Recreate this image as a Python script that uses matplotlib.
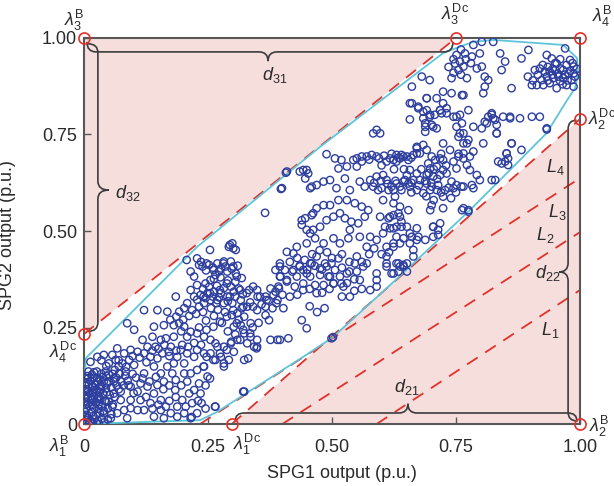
import matplotlib
matplotlib.use('Agg')
import matplotlib.pyplot as plt
from matplotlib.path import Path
from matplotlib.patches import PathPatch, Polygon

plt.rcParams['font.family'] = ['Liberation Sans', 'DejaVu Sans']
plt.rcParams['mathtext.fontset'] = 'custom'
plt.rcParams['mathtext.rm'] = 'Liberation Sans'
plt.rcParams['mathtext.it'] = 'Liberation Sans:italic'
plt.rcParams['mathtext.bf'] = 'Liberation Sans:bold'

# ---------------- data ----------------
tick_vals = [0, 0.25, 0.50, 0.75, 1.00]
tick_labels = ['0', '0.25', '0.50', '0.75', '1.00']

# box vertices lambda^B (1..4) and dispatchable vertices lambda^Dc (1..4)
lamB_x = [0.0, 1.0, 0.0, 1.0]
lamB_y = [0.0, 0.0, 1.0, 1.0]
lamDc_x = [0.298, 1.0, 0.75, 0.0]
lamDc_y = [0.0, 0.79, 1.0, 0.233]

# extra parallel dashed lines L3, L2, L1 (start on x-axis, end on x=1)
Lpar_x0 = [0.234, 0.400, 0.590]
Lpar_y1 = [0.637, 0.497, 0.347]

# convex hull of the observed outputs
hull_x = [0.000, 0.234, 0.268, 0.442, 0.502, 0.640, 0.778, 0.865, 0.933, 0.974,
          0.990, 0.996, 0.994, 0.966, 0.825, 0.784, 0.724, 0.476, 0.228, 0.004, 0.002, 0.000]
hull_y = [0.000, 0.010, 0.031, 0.174, 0.225, 0.387, 0.554, 0.666, 0.754, 0.839,
          0.870, 0.910, 0.948, 0.982, 0.995, 0.990, 0.961, 0.718, 0.459, 0.171, 0.135, 0.000]

# observed (SPG1, SPG2) outputs, grouped by region
obs_origin = [
    (0.004,0.010),(0.012,0.006),(0.020,0.012),(0.028,0.008),(0.036,0.014),(0.006,0.024),(0.015,0.030),
    (0.024,0.022),(0.032,0.028),(0.040,0.034),(0.004,0.040),(0.011,0.046),(0.020,0.042),(0.029,0.050),
    (0.037,0.046),(0.006,0.058),(0.015,0.062),(0.024,0.056),(0.033,0.064),(0.042,0.060),(0.004,0.074),
    (0.012,0.080),(0.021,0.072),(0.030,0.084),(0.039,0.078),(0.006,0.090),(0.016,0.096),(0.025,0.088),
    (0.034,0.100),(0.044,0.092),(0.004,0.108),(0.013,0.112),(0.022,0.104),(0.031,0.116),(0.040,0.110),
    (0.006,0.124),(0.016,0.128),(0.026,0.120),(0.035,0.130),(0.045,0.124),(0.009,0.136),(0.020,0.134),
    (0.050,0.110),(0.055,0.095),(0.052,0.075),(0.058,0.130),(0.065,0.120),(0.075,0.110),(0.083,0.125),
    (0.070,0.090),(0.080,0.100),(0.088,0.112),(0.062,0.070),(0.048,0.040),(0.055,0.025),(0.002,0.002),
    (0.010,0.000),(0.018,0.002),(0.002,0.018),(0.002,0.032),(0.002,0.050),(0.002,0.066),(0.002,0.086),
    (0.002,0.100),(0.002,0.118),(0.040,0.004),(0.048,0.012),(0.030,0.000),
    (0.008,0.016),(0.018,0.020),(0.008,0.052),(0.018,0.050),(0.008,0.068),(0.018,0.066),(0.008,0.084),
    (0.018,0.082),(0.010,0.102),(0.018,0.096),(0.008,0.118),(0.020,0.120),(0.026,0.136),(0.030,0.040),
    (0.026,0.064),(0.034,0.090),(0.028,0.110),(0.038,0.122),(0.044,0.136),(0.050,0.128),(0.046,0.082),
    (0.050,0.058),(0.058,0.050),(0.066,0.100),(0.072,0.130),(0.060,0.110),
]

obs_lower_left = [
    (0.365,0.547),(0.254,0.451),(0.299,0.468),(0.306,0.451),(0.292,0.459),(0.207,0.425),
    (0.228,0.429),(0.232,0.412),(0.215,0.395),(0.222,0.382),(0.239,0.408),(0.252,0.412),(0.269,0.416),
    (0.282,0.421),(0.296,0.421),(0.276,0.403),(0.289,0.395),(0.306,0.390),(0.265,0.386),(0.255,0.373),
    (0.245,0.364),(0.228,0.360),(0.215,0.347),(0.222,0.330),(0.235,0.334),(0.249,0.339),(0.262,0.343),
    (0.276,0.339),(0.289,0.330),(0.302,0.343),(0.312,0.351),(0.316,0.321),(0.299,0.313),(0.282,0.313),
    (0.269,0.321),(0.255,0.321),(0.242,0.313),(0.232,0.304),(0.218,0.295),(0.202,0.300),(0.192,0.291),
    (0.185,0.330),(0.208,0.313),(0.309,0.287),(0.323,0.278),(0.329,0.304),(0.333,0.347),(0.349,0.347),
    (0.366,0.330),(0.376,0.351),(0.386,0.343),(0.390,0.321),(0.366,0.304),(0.349,0.295),(0.336,0.261),
    (0.316,0.256),(0.302,0.252),(0.323,0.235),(0.336,0.226),(0.349,0.218),(0.343,0.200),(0.329,0.209),
    (0.309,0.218),(0.296,0.209),(0.282,0.200),(0.265,0.209),(0.255,0.218),(0.242,0.226),(0.228,0.235),
    (0.215,0.239),(0.202,0.252),(0.192,0.261),(0.181,0.256),(0.168,0.291),(0.121,0.295),(0.148,0.295),
    (0.161,0.256),(0.141,0.252),(0.087,0.261),(0.101,0.244),
    (0.118,0.218),(0.128,0.200),(0.138,0.226),(0.144,0.200),(0.155,0.218),(0.165,0.222),(0.175,0.200),
    (0.181,0.226),(0.171,0.187),(0.158,0.183),(0.148,0.170),(0.134,0.174),(0.121,0.183),(0.108,0.187),
    (0.094,0.192),(0.081,0.183),(0.067,0.196),(0.057,0.179),(0.040,0.179),(0.027,0.174),(0.013,0.161),
    (0.050,0.157),(0.064,0.166),(0.077,0.157),(0.091,0.166),(0.101,0.153),(0.084,0.136),(0.071,0.131),
    (0.060,0.118),(0.047,0.105),(0.034,0.097),(0.020,0.088),(0.030,0.071),(0.044,0.058),(0.057,0.045),
    (0.067,0.028),(0.081,0.036),(0.094,0.041),(0.108,0.036),(0.121,0.036),(0.134,0.054),(0.141,0.079),
    (0.155,0.062),(0.165,0.045),(0.175,0.028),(0.188,0.045),(0.198,0.062),(0.212,0.079),(0.222,0.088),
    (0.235,0.079),(0.218,0.054),(0.202,0.028),(0.215,0.015),(0.141,0.019),(0.128,0.097),(0.114,0.105),
    (0.108,0.084),(0.121,0.131),(0.141,0.149),(0.155,0.131),(0.168,0.149),(0.178,0.131),(0.185,0.114),
    (0.202,0.131),(0.215,0.131),(0.228,0.140),(0.242,0.149),(0.249,0.123),(0.222,0.174),(0.228,0.192),
    (0.242,0.183),(0.255,0.183),(0.265,0.166),(0.276,0.174),(0.282,0.157),(0.292,0.166),(0.269,0.200),
    (0.282,0.149),(0.302,0.187),(0.323,0.166),(0.349,0.200),(0.373,0.269),(0.390,0.218),(0.376,0.218),
    (0.265,0.045),(0.323,0.084),(0.202,0.157),(0.208,0.183),(0.195,0.192),(0.188,0.174),(0.181,0.157),
    (0.161,0.110),(0.148,0.101),(0.074,0.062),(0.060,0.079),
    (0.094,0.062),(0.114,0.062),(0.155,0.036),(0.188,0.019),(0.228,0.028),(0.161,0.015),(0.040,0.028),
    (0.054,0.015),(0.087,0.015),(0.074,0.084),(0.094,0.097),(0.386,0.399),(0.396,0.382),(0.393,0.351),
    # denser core of the lower-left cluster
    (0.236,0.420),(0.246,0.398),(0.260,0.405),(0.272,0.395),(0.285,0.408),(0.298,0.402),(0.310,0.410),
    (0.262,0.376),(0.275,0.380),(0.290,0.372),(0.305,0.368),(0.318,0.378),(0.240,0.350),(0.252,0.355),
    (0.268,0.358),(0.282,0.352),(0.296,0.356),(0.228,0.322),(0.245,0.326),(0.260,0.330),(0.272,0.328),
    (0.290,0.318),(0.305,0.330),(0.320,0.336),(0.212,0.280),(0.226,0.285),(0.240,0.290),(0.256,0.300),
    (0.270,0.296),(0.284,0.290),(0.298,0.282),(0.312,0.270),(0.200,0.270),(0.186,0.278),(0.174,0.270),
    (0.196,0.240),(0.208,0.226),(0.232,0.250),(0.246,0.268),(0.262,0.280),(0.278,0.262),(0.290,0.240),
    (0.305,0.232),(0.318,0.300),(0.335,0.315),(0.350,0.330),(0.358,0.310),(0.372,0.320),(0.380,0.300),
    (0.366,0.282),(0.352,0.262),(0.340,0.250),
    (0.070,0.150),(0.085,0.148),(0.098,0.176),(0.112,0.172),(0.126,0.160),(0.138,0.190),(0.150,0.195),
    (0.162,0.205),(0.172,0.176),(0.186,0.190),(0.198,0.205),(0.210,0.200),(0.222,0.210),(0.236,0.205),
    (0.105,0.120),(0.118,0.118),(0.132,0.110),(0.145,0.122),(0.160,0.090),(0.172,0.100),(0.184,0.088),
    (0.196,0.100),(0.208,0.110),(0.232,0.105),(0.245,0.100),(0.100,0.080),(0.125,0.070),(0.138,0.040),
    (0.150,0.050),(0.172,0.060),(0.185,0.070),(0.205,0.045),(0.230,0.060),(0.245,0.040),(0.090,0.100),
    (0.098,0.130),(0.062,0.140),(0.070,0.165),(0.045,0.150),(0.035,0.165),
]

obs_lower_mid = [
    (0.247,0.416),(0.261,0.399),(0.281,0.416),(0.301,0.408),(0.308,0.382),(0.288,0.364),(0.274,0.347),
    (0.254,0.339),(0.241,0.330),(0.267,0.313),(0.294,0.330),(0.315,0.347),(0.328,0.339),(0.341,0.356),
    (0.355,0.330),(0.368,0.321),(0.382,0.334),(0.341,0.304),(0.321,0.304),(0.301,0.295),(0.288,0.278),
    (0.274,0.265),(0.261,0.252),(0.247,0.244),(0.308,0.261),(0.321,0.244),(0.335,0.235),(0.315,0.218),
    (0.297,0.213),(0.288,0.192),(0.274,0.183),(0.261,0.166),(0.247,0.174),(0.241,0.149),(0.254,0.118),
    (0.331,0.170),(0.348,0.196),(0.395,0.218),(0.412,0.222),(0.392,0.356),(0.409,0.373),(0.395,0.408),
    (0.422,0.399),(0.435,0.408),(0.449,0.390),(0.459,0.416),(0.476,0.403),(0.489,0.408),(0.493,0.382),
    (0.503,0.364),(0.516,0.382),(0.530,0.390),(0.546,0.416),(0.563,0.408),(0.556,0.373),(0.523,0.356),
    (0.577,0.347),(0.590,0.373),(0.610,0.408),(0.624,0.390),(0.637,0.408),(0.536,0.330),(0.439,0.269),
    (0.449,0.248),(0.388,0.313),(0.402,0.300),(0.442,0.347),(0.469,0.339),(0.499,0.222),(0.502,0.225),
    (0.321,0.084),(0.264,0.045),(0.237,0.054),(0.217,0.018),
    (0.415,0.420),(0.430,0.430),(0.445,0.425),(0.460,0.440),(0.475,0.450),(0.490,0.445),(0.500,0.430),
    (0.520,0.440),(0.535,0.420),(0.480,0.400),(0.465,0.410),(0.450,0.400),(0.435,0.410),(0.420,0.395),
    (0.520,0.405),(0.535,0.395),(0.545,0.375),(0.530,0.365),(0.560,0.420),(0.575,0.440),(0.585,0.455),
    (0.600,0.440),(0.615,0.445),(0.480,0.340),(0.495,0.350),(0.455,0.350),(0.430,0.335),(0.415,0.330),
    (0.400,0.335),(0.455,0.305),(0.470,0.290),(0.485,0.300),(0.520,0.330),(0.545,0.345),(0.560,0.350),
]

obs_center = [
    (0.762,0.852),(0.691,0.844),(0.661,0.831),(0.657,0.789),(0.674,0.818),(0.684,0.809),(0.698,0.801),
    (0.718,0.813),(0.724,0.831),(0.731,0.805),(0.745,0.796),(0.758,0.801),(0.775,0.813),(0.688,0.779),
    (0.701,0.775),(0.711,0.766),(0.688,0.757),(0.724,0.727),(0.738,0.710),(0.758,0.753),(0.762,0.779),
    (0.755,0.744),(0.765,0.727),(0.775,0.736),(0.785,0.706),(0.765,0.688),(0.772,0.671),(0.751,0.662),
    (0.778,0.658),(0.785,0.611),(0.765,0.615),(0.741,0.628),(0.724,0.658),(0.718,0.688),(0.708,0.684),
    (0.698,0.662),(0.691,0.645),(0.704,0.641),(0.714,0.619),(0.701,0.615),(0.691,0.623),(0.677,0.632),
    (0.664,0.632),(0.671,0.649),(0.657,0.658),(0.651,0.645),(0.644,0.628),(0.630,0.623),(0.620,0.615),
    (0.610,0.632),(0.603,0.645),(0.590,0.641),(0.577,0.632),(0.566,0.615),(0.556,0.628),(0.600,0.611),
    (0.614,0.606),(0.624,0.606),(0.640,0.606),(0.657,0.615),(0.671,0.606),(0.684,0.598),(0.698,0.606),
    (0.711,0.606),(0.728,0.606),(0.745,0.611),(0.724,0.589),(0.627,0.589),(0.637,0.688),(0.644,0.693),
    (0.630,0.680),(0.617,0.688),(0.610,0.680),(0.654,0.684),(0.664,0.697),(0.671,0.714),(0.684,0.723),
    (0.671,0.701),(0.590,0.693),(0.580,0.697),(0.570,0.693),(0.560,0.693),(0.550,0.688),(0.543,0.684),
    (0.550,0.667),(0.530,0.667),(0.519,0.684),(0.506,0.688),(0.489,0.699),(0.590,0.762),(0.597,0.753),
    (0.583,0.753),(0.442,0.658),(0.452,0.649),(0.435,0.654),(0.409,0.654),(0.399,0.611),(0.446,0.636),
    (0.456,0.611),(0.469,0.619),(0.483,0.628),(0.496,0.632),(0.513,0.662),(0.526,0.636),(0.509,0.611),
    (0.536,0.606),(0.530,0.580),(0.513,0.580),(0.496,0.567),(0.483,0.567),(0.469,0.559),(0.459,0.541),
    (0.446,0.533),(0.439,0.516),(0.449,0.503),(0.462,0.503),(0.476,0.511),(0.489,0.528),(0.503,0.537),
    (0.516,0.546),(0.526,0.533),(0.539,0.524),(0.553,0.520),(0.566,0.537),(0.573,0.554),(0.560,0.563),
    (0.546,0.572),(0.597,0.537),(0.614,0.533),(0.624,0.541),(0.634,0.546),(0.640,0.524),(0.651,0.511),
    (0.630,0.511),(0.617,0.507),(0.603,0.494),(0.590,0.477),(0.577,0.485),(0.570,0.459),(0.610,0.459),
    (0.624,0.468),(0.630,0.485),(0.644,0.481),(0.661,0.485),(0.674,0.485),(0.664,0.451),(0.664,0.434),
    (0.704,0.511),(0.714,0.503),(0.724,0.559),(0.701,0.567),(0.762,0.554),(0.775,0.550),(0.556,0.485),
    (0.533,0.481),(0.536,0.503),(0.516,0.468),(0.503,0.481),(0.483,0.468),(0.466,0.481),(0.449,0.468),
    (0.429,0.459),(0.422,0.442),(0.409,0.446),(0.395,0.416),(0.405,0.399),(0.395,0.382),(0.409,0.369),
    (0.429,0.382),(0.442,0.399),(0.456,0.416),(0.469,0.434),(0.486,0.416),(0.499,0.416),(0.513,0.429),
    (0.506,0.399),(0.496,0.382),(0.476,0.386),(0.456,0.382),(0.442,0.364),(0.425,0.356),(0.466,0.360),
    (0.483,0.360),(0.503,0.364),(0.519,0.364),(0.550,0.434),(0.550,0.395),(0.570,0.416),(0.590,0.390),
    (0.590,0.356),(0.610,0.416),(0.634,0.416),(0.644,0.408),(0.651,0.416),(0.634,0.395),(0.620,0.390),
    (0.630,0.697),(0.640,0.697),(0.651,0.693),(0.624,0.684),(0.647,0.632),(0.654,0.623),(0.637,0.615),
    (0.583,0.615),(0.593,0.606),
    (0.407,0.651),(0.397,0.609),(0.449,0.658),(0.459,0.615),(0.439,0.528),(0.462,0.546),(0.456,0.494),
    (0.294,0.464),(0.301,0.455),
    (0.603,0.580),(0.624,0.572),(0.637,0.563),(0.654,0.554),(0.637,0.537),(0.617,0.537),(0.607,0.511),
    (0.624,0.507),(0.640,0.511),(0.657,0.494),(0.671,0.507),(0.698,0.554),(0.704,0.511),(0.718,0.520),
    (0.714,0.490),(0.704,0.485),(0.688,0.477),(0.671,0.477),(0.657,0.468),(0.637,0.468),(0.624,0.459),
    (0.610,0.434),(0.630,0.416),(0.644,0.412),(0.651,0.395),(0.765,0.559),(0.775,0.554),(0.761,0.615),
    (0.751,0.619),(0.782,0.619),
    (0.560,0.680),(0.575,0.685),(0.595,0.688),(0.605,0.695),(0.620,0.700),(0.634,0.690),(0.660,0.690),
    (0.600,0.670),(0.625,0.660),(0.645,0.660),(0.585,0.625),(0.598,0.630),(0.612,0.622),(0.628,0.630),
    (0.660,0.625),(0.675,0.618),(0.688,0.630),(0.700,0.625),(0.712,0.635),(0.660,0.600),(0.690,0.590),
    (0.705,0.580),(0.720,0.600),(0.735,0.612),(0.750,0.600),(0.740,0.585),(0.680,0.660),(0.695,0.650),
    (0.705,0.660),(0.730,0.670),(0.745,0.680),(0.755,0.700),(0.720,0.700),
]

obs_upper_right = [
    (0.785,0.982),(0.802,0.990),(0.825,0.990),(0.798,0.960),(0.782,0.952),(0.768,0.960),(0.751,0.956),
    (0.748,0.934),(0.758,0.939),(0.765,0.926),(0.755,0.917),(0.741,0.896),(0.772,0.896),(0.792,0.921),
    (0.802,0.926),(0.839,0.960),(0.849,0.939),(0.842,0.917),(0.862,0.870),(0.882,0.947),(0.896,0.969),
    (0.909,0.917),(0.933,0.956),(0.943,0.947),(0.953,0.934),(0.919,0.921),(0.929,0.913),(0.939,0.913),
    (0.950,0.917),(0.960,0.921),(0.966,0.917),(0.973,0.930),(0.980,0.943),(0.987,0.926),(0.970,0.973),
    (0.983,0.891),(0.987,0.874),(0.973,0.878),(0.953,0.870),(0.939,0.883),(0.926,0.878),(0.913,0.878),
    (0.903,0.878),(0.933,0.900),(0.946,0.896),(0.956,0.900),(0.966,0.896),(0.977,0.908),(0.987,0.908),
    (0.923,0.891),(0.808,0.900),(0.808,0.874),(0.815,0.891),(0.805,0.857),(0.765,0.852),(0.741,0.857),
    (0.724,0.861),(0.697,0.891),(0.681,0.900),(0.661,0.874),(0.691,0.844),(0.711,0.844),(0.657,0.831),
    (0.674,0.822),(0.691,0.813),(0.718,0.813),(0.731,0.818),(0.707,0.801),(0.697,0.796),(0.684,0.792),
    (0.688,0.770),(0.704,0.770),(0.721,0.805),(0.751,0.796),(0.751,0.770),(0.765,0.753),(0.772,0.727),
    (0.785,0.770),(0.802,0.766),(0.822,0.805),(0.825,0.792),(0.815,0.796),(0.808,0.783),(0.832,0.775),
    (0.845,0.796),(0.859,0.796),(0.879,0.792),(0.919,0.796),(0.933,0.766),(0.832,0.753),(0.862,0.727),
    (0.852,0.701),(0.855,0.688),(0.842,0.675),(0.822,0.632),(0.778,0.693),(0.765,0.701),(0.755,0.693),
    (0.724,0.684),(0.718,0.645),(0.731,0.649),(0.711,0.667),(0.701,0.693),(0.694,0.675),(0.671,0.718),
    (0.677,0.701),(0.691,0.710),
    (0.812,0.779),(0.822,0.801),(0.829,0.788),(0.859,0.792),(0.903,0.796),(0.933,0.763),(0.832,0.753),
    (0.805,0.727),(0.829,0.632),(0.798,0.632),(0.852,0.701),(0.849,0.680),(0.855,0.671),(0.835,0.680),
    (0.862,0.727),(0.882,0.710),(0.792,0.645),
    (0.915,0.905),(0.925,0.930),(0.935,0.925),(0.945,0.920),(0.955,0.908),(0.945,0.905),(0.935,0.890),
    (0.960,0.888),(0.970,0.905),(0.980,0.915),(0.990,0.900),(0.975,0.890),(0.965,0.880),(0.950,0.935),
    (0.960,0.945),(0.985,0.935),(0.994,0.920),(0.905,0.890),(0.895,0.900),
    (0.745,0.945),(0.760,0.970),(0.770,0.945),(0.780,0.935),(0.735,0.925),(0.745,0.910),(0.760,0.905),
]

# ---------------- styles ----------------
PINK = '#F6DEDD'
RED = '#E2312B'
CYAN = '#5DC5DA'
BLUE = '#2D3E9E'
GRAY = '#575757'
TXT = '#2a2a2a'

fig = plt.figure(figsize=(6.14, 4.86), dpi=100)
ax = fig.add_axes([84 / 614, 62 / 486, 496 / 614, 386 / 486])
ax.set_xlim(0, 1)
ax.set_ylim(0, 1)

# pink regions outside the dispatchable band
ax.add_patch(Polygon([(lamDc_x[3], lamDc_y[3]), (lamB_x[2], lamB_y[2]), (lamDc_x[2], lamDc_y[2])],
                     closed=True, facecolor=PINK, edgecolor='none', zorder=1))
ax.add_patch(Polygon([(lamDc_x[0], lamDc_y[0]), (lamB_x[1], lamB_y[1]), (lamDc_x[1], lamDc_y[1])],
                     closed=True, facecolor=PINK, edgecolor='none', zorder=1))

dash = (0, (7, 5))
ax.plot([lamDc_x[3], lamDc_x[2]], [lamDc_y[3], lamDc_y[2]], color=RED, lw=1.3, ls=dash, zorder=2)
ax.plot([lamDc_x[0], lamDc_x[1]], [lamDc_y[0], lamDc_y[1]], color=RED, lw=1.3, ls=dash, zorder=2)
for x0, y1 in zip(Lpar_x0, Lpar_y1):
    ax.plot([x0, 1.0], [0.0, y1], color=RED, lw=1.3, ls=dash, zorder=2)

# hull
ax.plot(hull_x, hull_y, color=CYAN, lw=1.3, zorder=3)

# observations
allpts = obs_origin + obs_lower_left + obs_lower_mid + obs_center + obs_upper_right
px = [p[0] for p in allpts]
py = [p[1] for p in allpts]
ax.scatter(px, py, s=28, facecolors='none', edgecolors=BLUE, linewidths=1.0, zorder=4)

# braces
RX = 9 / 496.0
RY = 9 / 386.0


def hbrace(x0, x1, ye0, ye1, yb, xm, depth):
    v = [(x0, ye0), (x0, yb), (x0 + RX, yb), (xm - RX, yb), (xm, yb), (xm, yb + depth),
         (xm, yb), (xm + RX, yb), (x1 - RX, yb), (x1, yb), (x1, ye1)]
    c = [Path.MOVETO, Path.CURVE3, Path.CURVE3, Path.LINETO, Path.CURVE3, Path.CURVE3,
         Path.CURVE3, Path.CURVE3, Path.LINETO, Path.CURVE3, Path.CURVE3]
    ax.add_patch(PathPatch(Path(v, c), fill=False, edgecolor='#3c3c3c', lw=1.2, zorder=5,
                           clip_on=False))


def vbrace(y0, y1, xe0, xe1, xb, ym, depth):
    v = [(xe0, y0), (xb, y0), (xb, y0 - RY), (xb, ym + RY), (xb, ym), (xb + depth, ym),
         (xb, ym), (xb, ym - RY), (xb, y1 + RY), (xb, y1), (xe1, y1)]
    c = [Path.MOVETO, Path.CURVE3, Path.CURVE3, Path.LINETO, Path.CURVE3, Path.CURVE3,
         Path.CURVE3, Path.CURVE3, Path.LINETO, Path.CURVE3, Path.CURVE3]
    ax.add_patch(PathPatch(Path(v, c), fill=False, edgecolor='#3c3c3c', lw=1.2, zorder=5,
                           clip_on=False))


hbrace(0.006, 0.744, 0.99, 0.99, 0.964, 0.371, -0.024)     # d31
vbrace(0.985, 0.240, 0.008, 0.008, 0.028, 0.606, 0.022)    # d32
hbrace(0.305, 0.994, 0.008, 0.006, 0.0285, 0.653, 0.024)   # d21
vbrace(0.787, 0.008, 0.993, 0.994, 0.976, 0.394, -0.018)   # d22

# vertices
ax.plot(lamB_x, lamB_y, 'o', ms=8, mfc='none', mec=RED, mew=1.2, clip_on=False, zorder=6)
ax.plot(lamDc_x, lamDc_y, 'o', ms=8, mfc='none', mec=RED, mew=1.2, clip_on=False, zorder=6)

lab_kw = dict(fontsize=13, color=TXT, zorder=7, clip_on=False)
ax.text(-0.028, -0.058, r'$\lambda_1^{\mathrm{B}}$', ha='right', va='center', **lab_kw)
ax.text(1.018, -0.006, r'$\lambda_2^{\mathrm{B}}$', ha='left', va='center', **lab_kw)
ax.text(-0.02, 1.046, r'$\lambda_3^{\mathrm{B}}$', ha='center', va='center', **lab_kw)
ax.text(1.046, 1.056, r'$\lambda_4^{\mathrm{B}}$', ha='center', va='center', **lab_kw)
ax.text(0.329, -0.052, r'$\lambda_1^{\mathrm{Dc}}$', ha='center', va='center', **lab_kw)
ax.text(1.016, 0.79, r'$\lambda_2^{\mathrm{Dc}}$', ha='left', va='center', **lab_kw)
ax.text(0.748, 1.062, r'$\lambda_3^{\mathrm{Dc}}$', ha='center', va='center', **lab_kw)
ax.text(-0.042, 0.186, r'$\lambda_4^{\mathrm{Dc}}$', ha='center', va='center', **lab_kw)

ax.text(0.385, 0.904, r'$d_{31}$', ha='center', va='center', **lab_kw)
ax.text(0.089, 0.598, r'$d_{32}$', ha='center', va='center', **lab_kw)
ax.text(0.651, 0.096, r'$d_{21}$', ha='center', va='center', **lab_kw)
ax.text(0.935, 0.391, r'$d_{22}$', ha='center', va='center', **lab_kw)

ax.text(0.950, 0.666, r'$L_4$', ha='center', va='center', **lab_kw)
ax.text(0.954, 0.549, r'$L_3$', ha='center', va='center', **lab_kw)
ax.text(0.929, 0.490, r'$L_2$', ha='center', va='center', **lab_kw)
ax.text(0.940, 0.244, r'$L_1$', ha='center', va='center', **lab_kw)

# axes styling
ax.set_xticks(tick_vals)
ax.set_xticklabels(tick_labels)
ax.set_yticks(tick_vals)
ax.set_yticklabels(tick_labels)
ax.tick_params(axis='both', direction='in', length=5, width=1.0, color=GRAY,
               labelcolor=TXT, labelsize=13)
ax.tick_params(axis='x', pad=11)
ax.tick_params(axis='y', pad=5)
for sp in ax.spines.values():
    sp.set_color(GRAY)
    sp.set_linewidth(1.5)
ax.set_xlabel('SPG1 output (p.u.)', fontsize=13, color=TXT)
ax.set_ylabel('SPG2 output (p.u.)', fontsize=13, color=TXT)
ax.xaxis.set_label_coords(0.52, -0.105)
ax.yaxis.set_label_coords(-0.137, 0.49)

fig.savefig('out.png', dpi=100)
